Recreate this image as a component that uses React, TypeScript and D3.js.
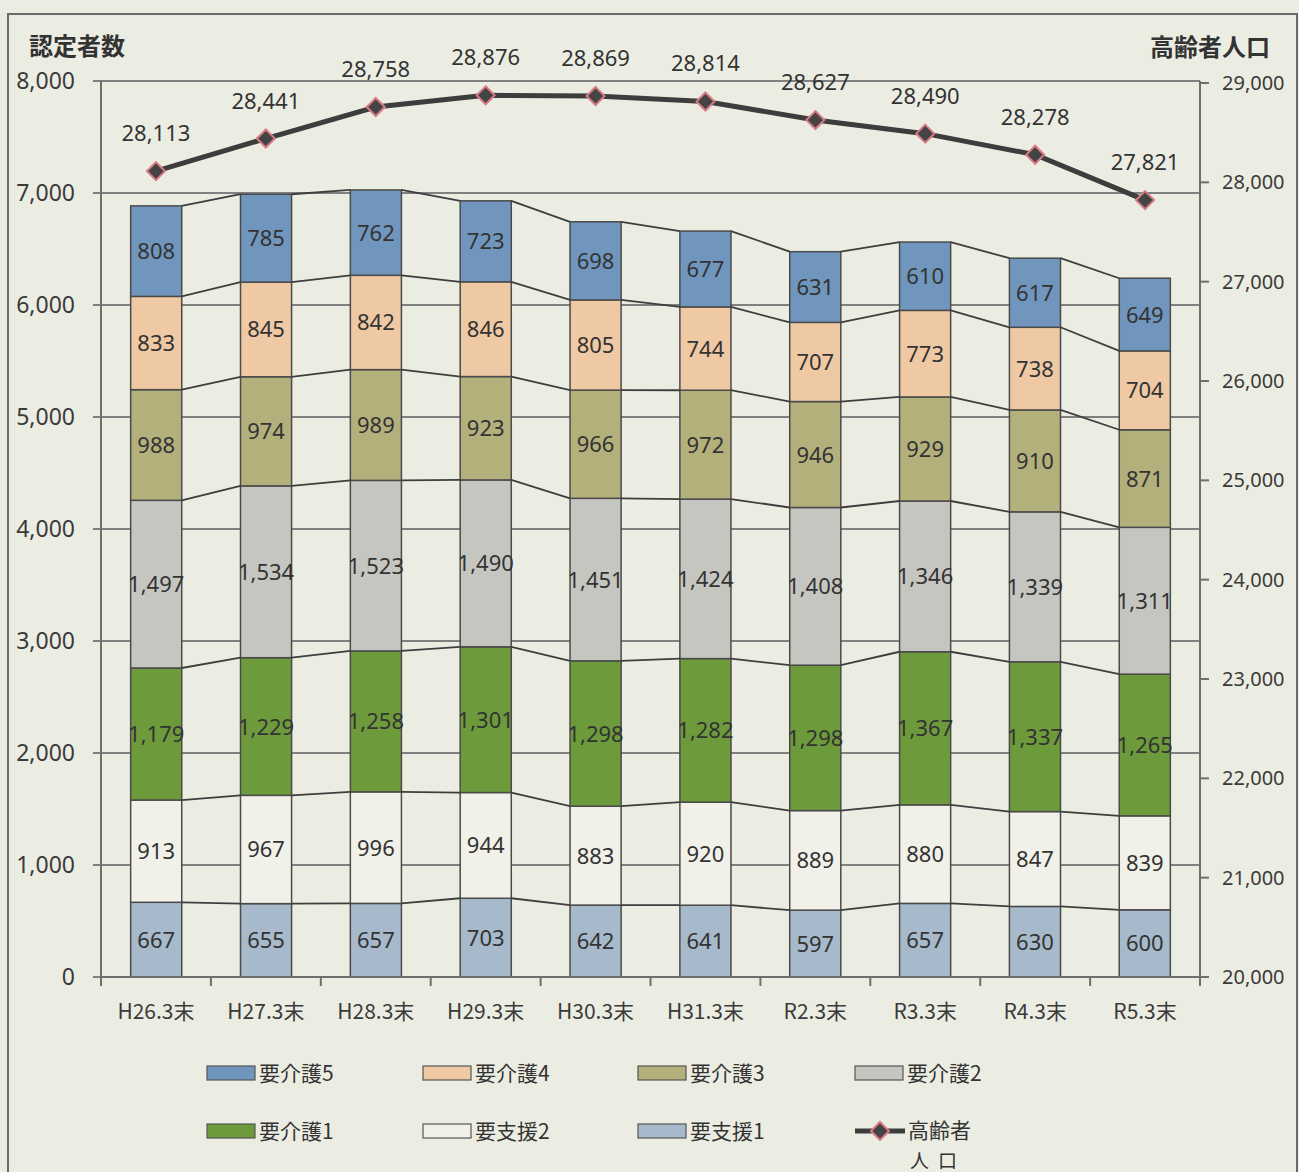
import React from "react";
import * as d3 from "d3";

const categories = ["H26.3末", "H27.3末", "H28.3末", "H29.3末", "H30.3末", "H31.3末", "R2.3末", "R3.3末", "R4.3末", "R5.3末"];
const seriesNames = ["要支援1", "要支援2", "要介護1", "要介護2", "要介護3", "要介護4", "要介護5"];
const shien1 = [667, 655, 657, 703, 642, 641, 597, 657, 630, 600];
const shien2 = [913, 967, 996, 944, 883, 920, 889, 880, 847, 839];
const kaigo1 = [1179, 1229, 1258, 1301, 1298, 1282, 1298, 1367, 1337, 1265];
const kaigo2 = [1497, 1534, 1523, 1490, 1451, 1424, 1408, 1346, 1339, 1311];
const kaigo3 = [988, 974, 989, 923, 966, 972, 946, 929, 910, 871];
const kaigo4 = [833, 845, 842, 846, 805, 744, 707, 773, 738, 704];
const kaigo5 = [808, 785, 762, 723, 698, 677, 631, 610, 617, 649];
const elderly = [28113, 28441, 28758, 28876, 28869, 28814, 28627, 28490, 28278, 27821];
const leftTicks = [0, 1000, 2000, 3000, 4000, 5000, 6000, 7000, 8000];
const rightTicks = [20000, 21000, 22000, 23000, 24000, 25000, 26000, 27000, 28000, 29000];

const seriesValues = [shien1, shien2, kaigo1, kaigo2, kaigo3, kaigo4, kaigo5];
const colors = ["#a7bacb", "#f1f1ea", "#6d9b3c", "#c6c6c0", "#b4b07c", "#efc8a4", "#7196bd"];

const legendItems = [
  { name: "要介護5", idx: 6 },
  { name: "要介護4", idx: 5 },
  { name: "要介護3", idx: 4 },
  { name: "要介護2", idx: 3 },
  { name: "要介護1", idx: 2 },
  { name: "要支援2", idx: 1 },
  { name: "要支援1", idx: 0 },
];

const FONT = "'Noto Sans', 'Noto Sans CJK JP', sans-serif";
const JP = "'Noto Sans CJK JP', 'Noto Sans', sans-serif";

export default function App() {
  const W = 1299, H = 1172;
  const plotL = 101, plotR = 1200, plotT = 81, plotB = 977;
  const x = d3.scaleBand<string>().domain(categories).range([plotL, plotR]).paddingInner(0.535).paddingOuter(0.27);
  const y = d3.scaleLinear().domain([0, 8000]).range([plotB, plotT]);
  const y2 = d3.scaleLinear().domain([20000, 29000]).range([plotB, plotT + 2]);
  const band = d3.scaleBand<string>().domain(categories).range([plotL, plotR]);

  const table = categories.map((c, i) => {
    const row: any = { cat: c };
    seriesNames.forEach((s, k) => (row[s] = seriesValues[k][i]));
    return row;
  });
  const stacked = d3.stack<any>().keys(seriesNames)(table);

  const bw = x.bandwidth();
  const lineGen = d3.line<number>().x((_, i) => band(categories[i])! + band.bandwidth() / 2).y((v) => y2(v));

  return (
    <svg width={W} height={H} style={{ display: "block", position: "absolute", left: 0, top: 0 }}>
      <rect x={0} y={0} width={W} height={H} fill="#ecede2" />
      <rect x={8} y={14} width={1289} height={1200} fill="none" stroke="#6a6a6a" strokeWidth={2} />
      {/* grid */}
      {leftTicks.map((t) => (
        <line key={"g" + t} x1={plotL - 8} x2={plotR} y1={y(t)} y2={y(t)} stroke="#808080" strokeWidth={2} />
      ))}
      {/* bars */}
      {stacked.map((layer, k) =>
        layer.map((d, i) => (
          <rect key={k + "-" + i} x={x(categories[i])!} y={y(d[1])} width={bw} height={y(d[0]) - y(d[1])}
            fill={colors[k]} stroke="#4a4a4a" strokeWidth={1.5} />
        ))
      )}
      {/* series lines */}
      {stacked.map((layer, k) =>
        layer.slice(0, -1).map((d, i) => (
          <line key={"sl" + k + "-" + i} x1={x(categories[i])! + bw} y1={y(d[1])} x2={x(categories[i + 1])!} y2={y(layer[i + 1][1])}
            stroke="#3e3e3e" strokeWidth={1.8} />
        ))
      )}
      {/* axes */}
      <line x1={plotL} x2={plotL} y1={plotT} y2={plotB} stroke="#6e6e6e" strokeWidth={2} />
      <line x1={plotR} x2={plotR} y1={plotT} y2={plotB} stroke="#6e6e6e" strokeWidth={2} />
      <line x1={plotL} x2={plotR} y1={plotB} y2={plotB} stroke="#6e6e6e" strokeWidth={2} />
      {categories.map((c, i) => (
        <line key={"xt" + i} x1={band(c)!} x2={band(c)!} y1={plotB} y2={plotB + 9} stroke="#6e6e6e" strokeWidth={2} />
      ))}
      <line x1={plotR} x2={plotR} y1={plotB} y2={plotB + 9} stroke="#6e6e6e" strokeWidth={2} />
      {rightTicks.map((t) => (
        <line key={"rt" + t} x1={plotR} x2={plotR + 9} y1={y2(t)} y2={y2(t)} stroke="#6e6e6e" strokeWidth={2} />
      ))}
      {leftTicks.map((t) => (
        <text key={"lt" + t} x={75} y={y(t) + 8} textAnchor="end" fontFamily={FONT} fontSize={23} fill="#3a3a3a">
          {d3.format(",")(t)}
        </text>
      ))}
      {rightTicks.map((t) => (
        <text key={"rl" + t} x={1222} y={y2(t) + 7} textAnchor="start" fontFamily={FONT} fontSize={20} fill="#3a3a3a">
          {d3.format(",")(t)}
        </text>
      ))}
      {categories.map((c) => (
        <text key={"xl" + c} x={band(c)! + band.bandwidth() / 2} y={1019} textAnchor="middle" fontFamily={JP} fontSize={21} fill="#3a3a3a">
          {c}
        </text>
      ))}
      {/* segment labels */}
      {stacked.map((layer, k) =>
        layer.map((d, i) => (
          <text key={"vl" + k + "-" + i} x={x(categories[i])! + bw / 2} y={(y(d[0]) + y(d[1])) / 2 + 8}
            textAnchor="middle" fontFamily={FONT} fontSize={22} fill="#333">
            {d3.format(",")(d[1] - d[0])}
          </text>
        ))
      )}
      {/* elderly line */}
      <path d={lineGen(elderly)!} fill="none" stroke="#3d3d3d" strokeWidth={5} />
      {elderly.map((v, i) => {
        const cx = band(categories[i])! + band.bandwidth() / 2;
        const cy = y2(v);
        return (
          <g key={"m" + i}>
            <path d={`M${cx},${cy - 9}L${cx + 9},${cy}L${cx},${cy + 9}L${cx - 9},${cy}Z`} fill="#444" stroke="#d77a84" strokeWidth={2} />
            <text x={cx} y={cy - 30} textAnchor="middle" fontFamily={FONT} fontSize={22} fill="#333">
              {d3.format(",")(v)}
            </text>
          </g>
        );
      })}
      {/* titles */}
      <text x={29} y={55} fontFamily={JP} fontSize={24} fontWeight="bold" fill="#333">認定者数</text>
      <text x={1270} y={56} textAnchor="end" fontFamily={JP} fontSize={24} fontWeight="bold" fill="#333">高齢者人口</text>
      {/* legend */}
      {legendItems.map((it, j) => {
        const col = j % 4, row = Math.floor(j / 4);
        const lx = [207, 423, 638, 855][col];
        const ly = [1073, 1131][row];
        return (
          <g key={"lg" + j}>
            <rect x={lx} y={ly - 7} width={48} height={14} fill={colors[it.idx]} stroke="#555" strokeWidth={1.2} />
            <text x={lx + 52} y={ly + 8} fontFamily={JP} fontSize={21} fill="#333">{it.name}</text>
          </g>
        );
      })}
      <g>
        <line x1={855} x2={905} y1={1131} y2={1131} stroke="#3d3d3d" strokeWidth={5} />
        <path d="M880,1122L889,1131L880,1140L871,1131Z" fill="#444" stroke="#d77a84" strokeWidth={2} />
        <text x={908} y={1138} fontFamily={JP} fontSize={21} fill="#333">高齢者</text>
        <text x={910} y={1168} fontFamily={JP} fontSize={19} fill="#333" letterSpacing={9}>人口</text>
      </g>
    </svg>
  );
}
